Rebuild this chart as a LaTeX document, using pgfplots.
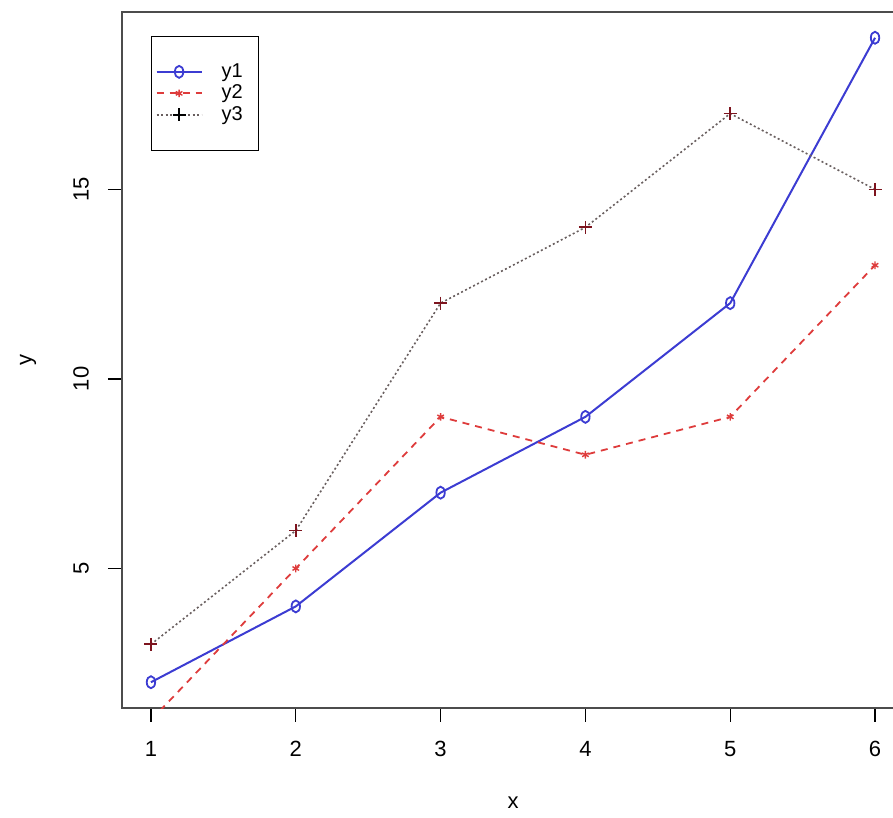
\documentclass[border=0pt]{standalone}
\usepackage{pgfplots}
\pgfplotsset{compat=1.18}
\usepackage{fontspec}
\setmainfont{Liberation Sans}
\definecolor{cblue}{RGB}{60,60,210}
\definecolor{cred}{RGB}{222,60,60}
\definecolor{cgray}{RGB}{105,95,95}
\definecolor{cmaroon}{RGB}{125,20,30}
\begin{document}
\begin{tikzpicture}
\useasboundingbox (-122pt,-110pt) rectangle (771pt,708pt);
\begin{axis}[
  at={(0pt,0pt)}, anchor=south west,
  scale only axis,
  width=782pt, height=696pt,
  xmin=0.8, xmax=6.2, ymin=1.32, ymax=19.68,
  xtick={1,2,3,4,5,6}, ytick={5,10,15},
  tick pos=left, tick align=outside,
  major tick length=14pt,
  every tick/.style={black, line width=1.3pt},
  axis line style={draw=black!70, line width=1.6pt},
  /pgf/number format/assume math mode=true,
  ticklabel style={font=\fontsize{22}{25}\selectfont},
  xticklabel style={inner sep=0pt, anchor=north},
  xticklabel shift=19pt,
  yticklabel style={rotate=90, anchor=south, inner sep=0pt},
  yticklabel shift=19pt,
  xlabel={x}, ylabel={y},
  label style={font=\fontsize{22}{25}\selectfont},
  xlabel style={at={(axis description cs:0.5,-0.1365)}, anchor=center, inner sep=0pt},
  ylabel style={at={(axis description cs:-0.120,0.5)}, anchor=center, inner sep=0pt, rotate=0},
  legend cell align=left,
  legend image code/.code={%
    \draw[mark repeat=2,mark phase=2,#1] plot coordinates {(0pt,0pt) (22.5pt,0pt) (45pt,0pt)};
    \path (0pt,0pt) (64pt,0pt);},
  legend style={at={(axis description cs:0.0371,0.9655)}, anchor=north west,
    draw=black, line width=1.2pt, inner xsep=4pt, inner ysep=26pt,
    font=\fontsize{20}{22}\selectfont,
    nodes={inner sep=0pt, text height=14.5pt, text depth=4pt},
    row sep=3pt},
]
\addplot[cblue, line width=2pt, mark=o, mark size=6pt, mark options={xscale=0.7, line width=1.8pt}, forget plot]
  coordinates {(1,2) (2,4) (3,7) (4,9) (5,12) (6,19)};
\addplot[cred, line width=1.8pt, dash pattern=on 7pt off 6pt, mark=asterisk, mark size=3.8pt, mark options={solid, line width=1.4pt}, forget plot]
  coordinates {(1,1) (2,5) (3,9) (4,8) (5,9) (6,13)};
\addplot[cgray, line width=1.6pt, dash pattern=on 2pt off 2.5pt, mark=+, mark size=6.5pt, mark options={solid, cmaroon, line width=1.7pt}, forget plot]
  coordinates {(1,3) (2,6) (3,12) (4,14) (5,17) (6,15)};
\addlegendimage{cblue, line width=2pt, mark=o, mark size=6pt, mark options={xscale=0.7, line width=1.8pt}}
\addlegendentry{y1\hspace*{12pt}}
\addlegendimage{cred, line width=1.8pt, dash pattern=on 7pt off 6pt, mark=asterisk, mark size=3.8pt, mark options={solid, line width=1.4pt}}
\addlegendentry{y2\hspace*{12pt}}
\addlegendimage{cgray, line width=1.6pt, dash pattern=on 2pt off 2.5pt, mark=+, mark size=6.5pt, mark options={solid, black, line width=1.7pt}}
\addlegendentry{y3\hspace*{12pt}}
\end{axis}
\end{tikzpicture}
\end{document}
